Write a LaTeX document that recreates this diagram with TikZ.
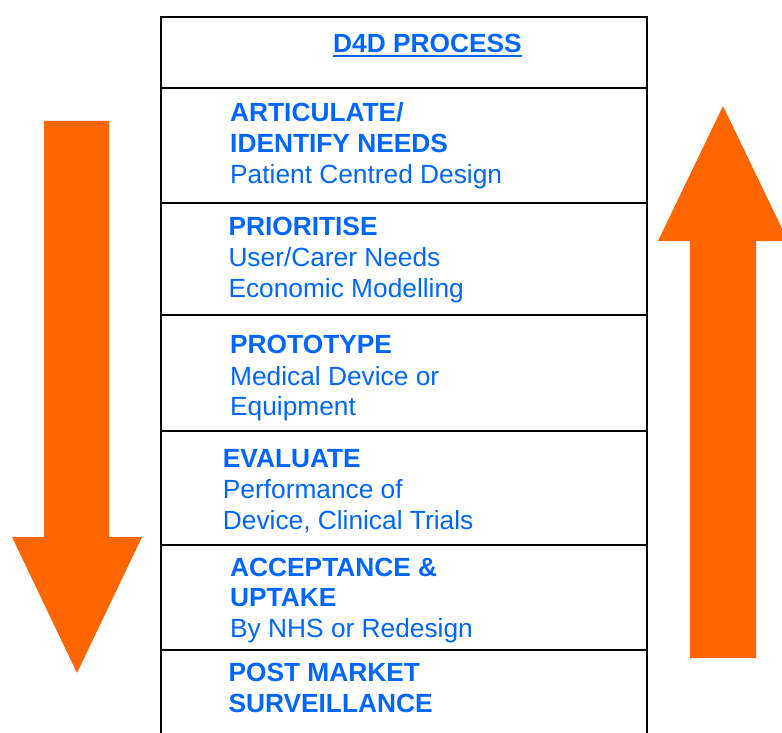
\documentclass[tikz,border=0pt]{standalone}
\usepackage{fontspec}
\setmainfont{Liberation Sans}
\definecolor{dblue}{HTML}{0066FF}
\definecolor{dorange}{HTML}{FF6600}
\begin{document}
\begin{tikzpicture}[x=1pt,y=-1pt,
  txt/.style={anchor=base west,inner sep=0pt,text=dblue,font=\fontsize{26.3}{30.5}\selectfont},
  hd/.style={txt,font=\fontsize{26.3}{30.5}\selectfont\bfseries},
  rule/.style={line width=2pt,draw=black},
  bigarrow/.style={fill=dorange,draw=none}]
\useasboundingbox (0,0) rectangle (782,733);
\clip (0,0) rectangle (782,733);
% arrows
\fill[bigarrow] (44,121) -- (109,121) -- (109,537) -- (142,537) -- (77,673) -- (12,537) -- (44,537) -- cycle;
\fill[bigarrow] (690,658) -- (756,658) -- (756,241) -- (788,241) -- (723,106) -- (658,241) -- (690,241) -- cycle;
% table
\draw[rule] (161,17) -- (161,740);
\draw[rule] (647,17) -- (647,740);
\foreach \yy in {17,88,203,315,431,545,650} \draw[rule] (160,\yy) -- (648,\yy);
% title
\node[hd] (title) at (333,52.3) {D4D PROCESS};
\draw[dblue,line width=2pt] ([yshift=-3.7pt]title.base west) -- ([yshift=-3.7pt]title.base east);
% section 1
\node[hd] (a1) at (230,122) {ARTICULATE/};
\node[hd] (a2) at (230,152.5) {IDENTIFY NEEDS};
\node[txt] (a3) at (230,183) {Patient Centred Design};
% section 2
\node[hd] (b1) at (228.3,235) {PRIORITISE};
\node[txt] (b2) at (228.3,266) {User/Carer Needs};
\node[txt] (b3) at (228.3,297) {Economic Modelling};
% section 3
\node[hd] (c1) at (230,353.5) {PROTOTYPE};
\node[txt] (c2) at (230,385) {Medical Device or};
\node[txt] (c3) at (230,415.5) {Equipment};
% section 4
\node[hd] (d1) at (222.7,467) {EVALUATE};
\node[txt] (d2) at (222.7,498.5) {Performance of};
\node[txt] (d3) at (222.7,529) {Device, Clinical Trials};
% section 5
\node[hd] (e1) at (230,576.7) {ACCEPTANCE \&};
\node[hd] (e2) at (230,606.7) {UPTAKE};
\node[txt] (e3) at (230,637.3) {By NHS or Redesign};
% section 6
\node[hd] (f1) at (228.3,681.7) {POST MARKET};
\node[hd] (f2) at (228.3,712.7) {SURVEILLANCE};
\end{tikzpicture}
\end{document}
